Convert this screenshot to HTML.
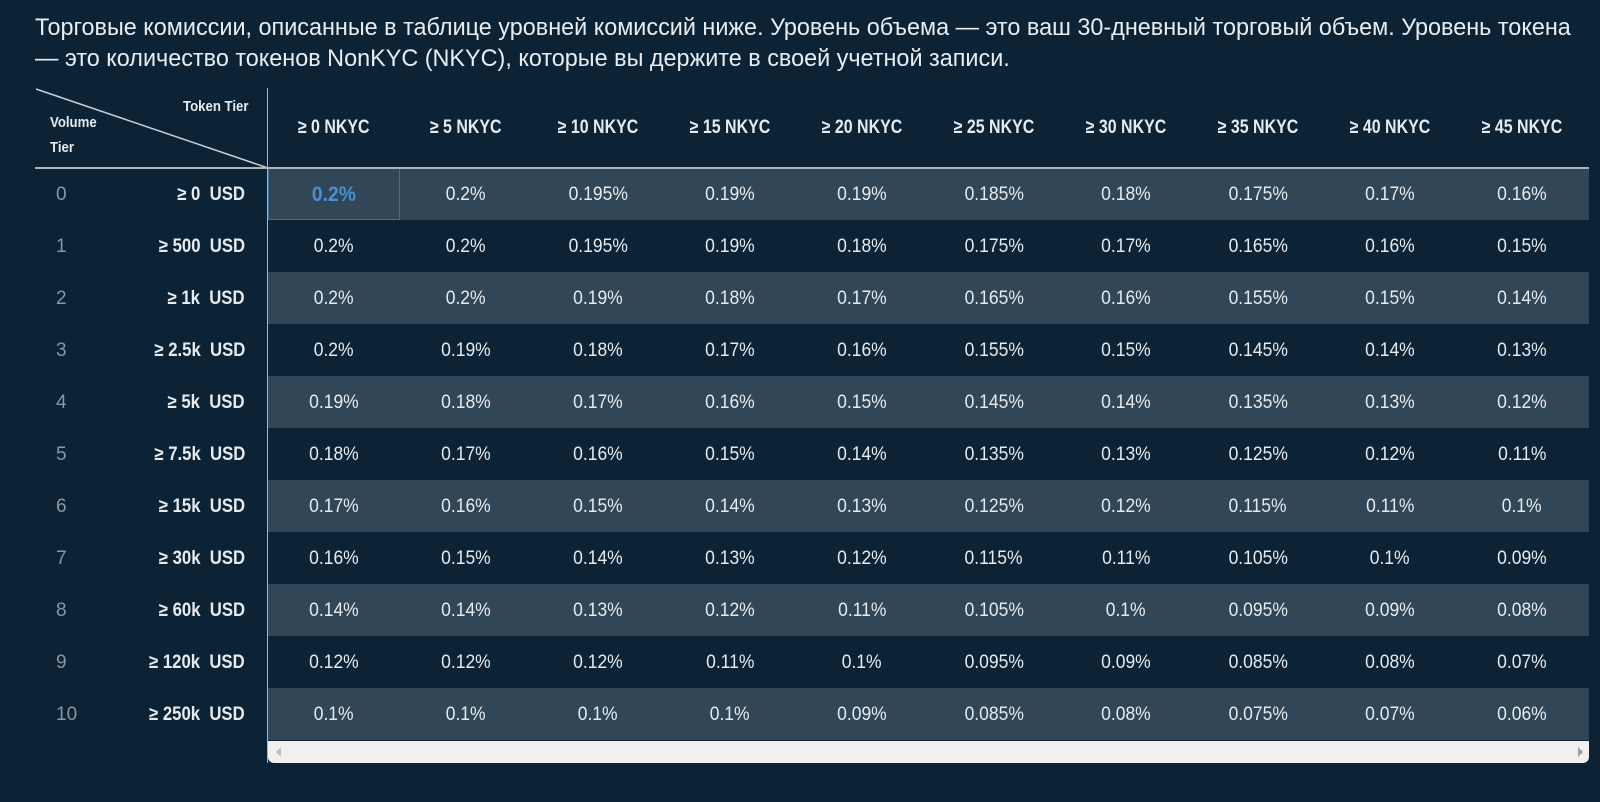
<!DOCTYPE html>
<html><head><meta charset="utf-8"><style>
body{margin:0;width:1600px;height:802px;background:#0b2335;overflow:hidden;font-family:"Liberation Sans",sans-serif;color:#e6ebef;position:relative}
.t{position:absolute;left:35px;top:12px;font-size:24px;line-height:31px;color:#e8edf1;white-space:nowrap;transform:scaleX(0.975);transform-origin:0 0}
.hl{position:absolute;background:#d9dee2}
.row{position:absolute;left:268px;width:1321px;height:52px}
.s{background:#314656}
.c{position:absolute;width:132px;text-align:center;font-size:19px;line-height:52px}
.c span{display:inline-block;transform:scaleX(0.92)}
.h{position:absolute;width:132px;text-align:center;font-size:19px;font-weight:bold;top:117px}
.h span{display:inline-block;transform:scaleX(0.84)}
.n{position:absolute;left:56px;font-size:19px;color:#8a97a2;line-height:52px}
.u{position:absolute;right:1355px;font-size:19px;font-weight:bold;line-height:52px;transform:scaleX(0.88);transform-origin:100% 50%}
</style></head><body>
<div class="t">Торговые комиссии, описанные в таблице уровней комиссий ниже. Уровень объема — это ваш 30-дневный торговый объем. Уровень токена<br>— это количество токенов NonKYC (NKYC), которые вы держите в своей учетной записи.</div>
<svg style="position:absolute;left:0;top:0" width="1600" height="802">
<line x1="36" y1="89" x2="268" y2="168" stroke="#c8d0d6" stroke-width="1.5"/>
</svg>
<div style="position:absolute;left:183px;top:98px;font-size:15px;font-weight:bold;transform:scaleX(0.88);transform-origin:0 0">Token Tier</div>
<div style="position:absolute;left:50px;top:110px;font-size:15px;font-weight:bold;line-height:25px;transform:scaleX(0.88);transform-origin:0 0">Volume<br>Tier</div>
<div id="g"></div>
<div class="hl" style="left:35px;top:167px;width:1554px;height:1.5px;background:#aab4bc"></div>
<div class="hl" style="left:267px;top:88px;width:1px;height:675px;background:#aab4bc"></div>
<div style="position:absolute;left:268px;top:741px;width:1321px;height:22px;background:#f0f0f0;border-radius:0 0 6px 6px"></div>
<div style="position:absolute;left:276px;top:747px;width:0;height:0;border:5px solid transparent;border-right-color:#c0c0c0;border-left:0"></div>
<div style="position:absolute;left:1578px;top:747px;width:0;height:0;border:5px solid transparent;border-left-color:#a0a0a0;border-right:0"></div>
<script>
var H=["≥ 0 NKYC","≥ 5 NKYC","≥ 10 NKYC","≥ 15 NKYC","≥ 20 NKYC","≥ 25 NKYC","≥ 30 NKYC","≥ 35 NKYC","≥ 40 NKYC","≥ 45 NKYC"];
var U=["≥ 0","≥ 500","≥ 1k","≥ 2.5k","≥ 5k","≥ 7.5k","≥ 15k","≥ 30k","≥ 60k","≥ 120k","≥ 250k"];
var D=[["0.2","0.2","0.195","0.19","0.19","0.185","0.18","0.175","0.17","0.16"],
["0.2","0.2","0.195","0.19","0.18","0.175","0.17","0.165","0.16","0.15"],
["0.2","0.2","0.19","0.18","0.17","0.165","0.16","0.155","0.15","0.14"],
["0.2","0.19","0.18","0.17","0.16","0.155","0.15","0.145","0.14","0.13"],
["0.19","0.18","0.17","0.16","0.15","0.145","0.14","0.135","0.13","0.12"],
["0.18","0.17","0.16","0.15","0.14","0.135","0.13","0.125","0.12","0.11"],
["0.17","0.16","0.15","0.14","0.13","0.125","0.12","0.115","0.11","0.1"],
["0.16","0.15","0.14","0.13","0.12","0.115","0.11","0.105","0.1","0.09"],
["0.14","0.14","0.13","0.12","0.11","0.105","0.1","0.095","0.09","0.08"],
["0.12","0.12","0.12","0.11","0.1","0.095","0.09","0.085","0.08","0.07"],
["0.1","0.1","0.1","0.1","0.09","0.085","0.08","0.075","0.07","0.06"]];
var h="";
for(var j=0;j<10;j++)h+='<div class="h" style="left:'+(268+132*j)+'px"><span>'+H[j]+'</span></div>';
for(var i=0;i<11;i++){var y=168+52*i;
if(i%2==0)h+='<div class="row s" style="top:'+y+'px"></div>';
h+='<div class="n" style="top:'+(y+1)+'px">'+i+'</div><div class="u" style="top:'+(y+1)+'px">'+U[i]+'&nbsp; USD</div>';
for(var j=0;j<10;j++){var st='left:'+(268+132*j)+'px;top:'+(y+1)+'px';
if(i==0&&j==0)st='left:268px;top:168px;box-sizing:border-box;border:1.5px solid #3d6d99;line-height:51px;color:#4a90d0;font-weight:bold;font-size:21px;height:52px';
h+='<div class="c" style="'+st+'"><span>'+D[i][j]+'%</span></div>';}}
document.getElementById('g').innerHTML=h;
</script>
</body></html>
